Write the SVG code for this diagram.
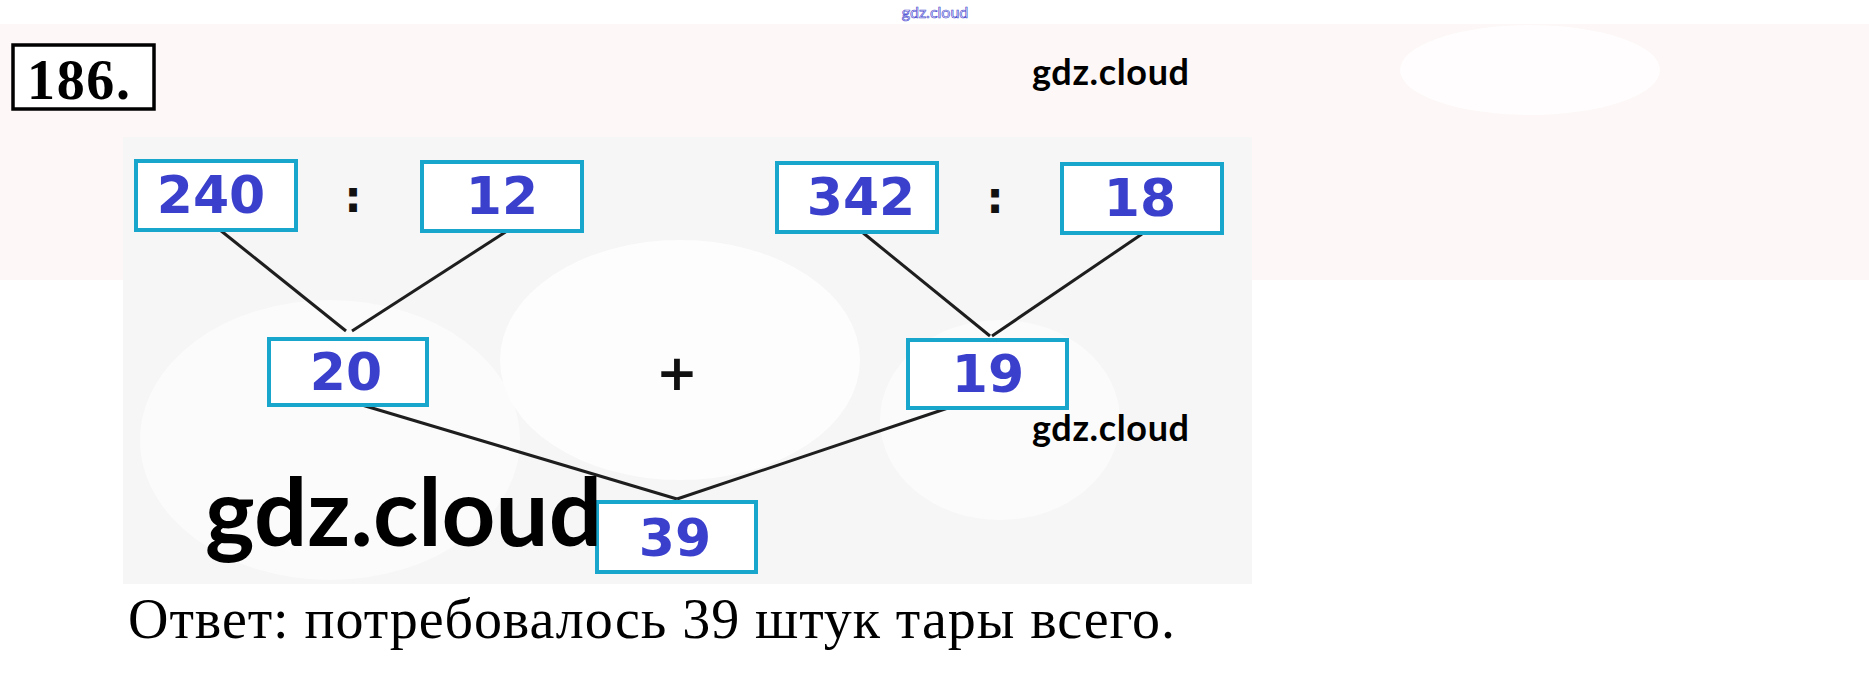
<svg xmlns="http://www.w3.org/2000/svg" width="1869" height="691" viewBox="0 0 1869 691">
<style>
.box{fill:#ffffff;stroke:#19a6cc;stroke-width:4}
.num{font-family:"DejaVu Sans",Verdana,sans-serif;font-weight:bold;font-size:52px;fill:#3a3fcc;text-anchor:middle}
.op{font-family:"DejaVu Sans",sans-serif;font-weight:bold;font-size:44px;fill:#111;text-anchor:middle}
.wm{font-family:Lato,"Open Sans",sans-serif;font-weight:bold;fill:#000}
.conn line{stroke:#1e1e1e;stroke-width:3}
</style>
<rect x="0" y="0" width="1869" height="691" fill="#ffffff"/>
<rect x="0" y="24" width="1869" height="256" fill="#fdf7f7"/>
<ellipse cx="1530" cy="70" rx="130" ry="45" fill="#ffffff" opacity="0.7"/>
<rect x="123" y="137" width="1129" height="447" fill="#f6f6f6"/>
<ellipse cx="330" cy="440" rx="190" ry="140" fill="#fbfbfb"/>
<ellipse cx="680" cy="360" rx="180" ry="120" fill="#fdfdfd"/>
<ellipse cx="1000" cy="420" rx="120" ry="100" fill="#fbfbfb"/>
<text x="935" y="18" font-family="Lato,sans-serif" font-size="16" fill="#ffffff" stroke="#4a4ad0" stroke-width="0.7" text-anchor="middle">gdz.cloud</text>
<g id="title">
<rect x="13" y="45" width="141" height="64" fill="#ffffff" stroke="#000" stroke-width="3.5"/>
<text x="27" y="99" font-family="Liberation Serif,serif" font-weight="bold" font-size="56" textLength="103" fill="#000">186.</text>
</g>
<g class="conn" id="connectors">
<line x1="220" y1="230" x2="346" y2="331"/>
<line x1="507" y1="231" x2="352" y2="331"/>
<line x1="862" y1="232" x2="990" y2="336"/>
<line x1="1142" y1="234" x2="992" y2="336"/>
<line x1="362" y1="405" x2="677" y2="499"/>
<line x1="948" y1="408" x2="677" y2="499"/>
</g>
<g id="n240"><rect class="box" x="136" y="161" width="160" height="69"/><text class="num" x="211" y="213">240</text></g>
<g id="n12"><rect class="box" x="422" y="162" width="160" height="69"/><text class="num" x="502" y="214">12</text></g>
<g id="n342"><rect class="box" x="777" y="163" width="160" height="69"/><text class="num" x="861" y="215">342</text></g>
<g id="n18"><rect class="box" x="1062" y="164" width="160" height="69"/><text class="num" x="1140" y="216">18</text></g>
<g id="n20"><rect class="box" x="269" y="339" width="158" height="66" stroke="#5cc4e0"/><text class="num" x="346" y="390">20</text></g>
<g id="n19"><rect class="box" x="908" y="340" width="159" height="68"/><text class="num" x="988" y="392">19</text></g>
<g id="n39"><rect class="box" x="597" y="502" width="159" height="70"/><text class="num" x="675" y="556" font-size="48">39</text></g>
<text class="op" x="353" y="212">:</text>
<text class="op" x="995" y="213">:</text>
<text x="677" y="390" font-family="DejaVu Sans,sans-serif" font-weight="bold" font-size="50" fill="#111" text-anchor="middle">+</text>
<text class="wm" x="1032" y="85" font-size="36" textLength="157">gdz.cloud</text>
<text class="wm" x="1032" y="441" font-size="36" textLength="157">gdz.cloud</text>
<text class="wm" x="205" y="546" font-size="94" textLength="397">gdz.cloud</text>
<text x="128" y="638" font-family="Liberation Serif,serif" font-size="56" textLength="1047" fill="#000">Ответ: потребовалось 39 штук тары всего.</text>
</svg>
